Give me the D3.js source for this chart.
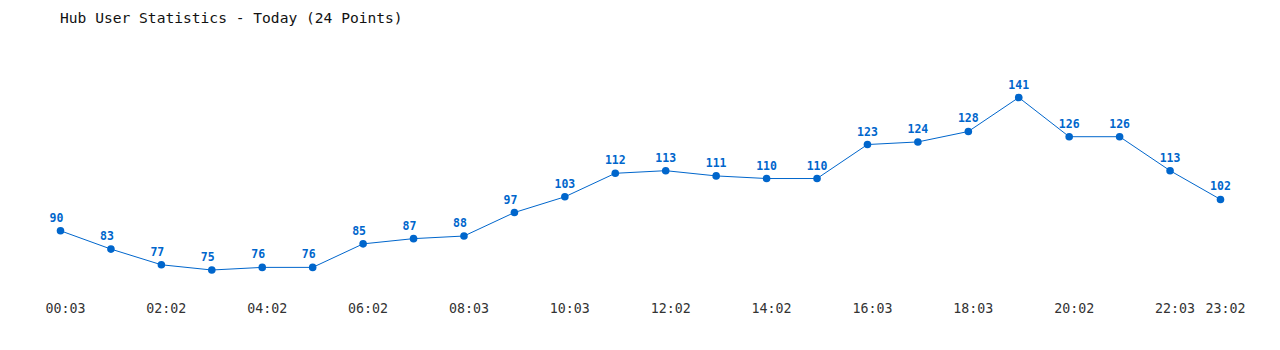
<!DOCTYPE html>
<meta charset="utf-8">
<style>
    body { margin: 0; background: #fff; }
    .line { fill: none; stroke: #0066cc; stroke-width: 1px; }
</style>
<body>
<script src="https://d3js.org/d3.v7.min.js"></script>
<script>
    var times = ["00:03", "01:02", "02:02", "03:02", "04:02", "05:02", "06:02", "07:03", "08:03", "09:03",
        "10:03", "11:02", "12:02", "13:02", "14:02", "15:03", "16:03", "17:02", "18:03", "19:02",
        "20:02", "21:02", "22:03", "23:02"];
    var users = [90, 83, 77, 75, 76, 76, 85, 87, 88, 97, 103, 112, 113, 111, 110, 110, 123, 124, 128, 141, 126, 126, 113, 102];
    var tickLabels = ["00:03", "02:02", "04:02", "06:02", "08:03", "10:03", "12:02", "14:02", "16:03", "18:03", "20:02", "22:03", "23:02"];

    var width = 1280, height = 350;
    var svg = d3.select("body").append("svg")
        .attr("width", width)
        .attr("height", height);

    var x = d3.scalePoint().domain(times).range([60.5, 1220.5]);
    var y = d3.scaleLinear().domain([75, 141]).range([270, 97.5]);

    svg.append("text")
        .attr("x", 60)
        .attr("y", 23)
        .style("font", "14.6px 'DejaVu Sans Mono', monospace")
        .attr("fill", "#111")
        .text("Hub User Statistics - Today (24 Points)");

    var line = d3.line()
        .x(function(d, i) { return x(times[i]); })
        .y(function(d) { return y(d); });

    svg.append("path")
        .datum(users)
        .attr("class", "line")
        .attr("d", line);

    svg.selectAll(".dot")
        .data(users)
        .enter().append("circle")
        .attr("class", "dot")
        .attr("cx", function(d, i) { return x(times[i]); })
        .attr("cy", function(d) { return y(d); })
        .attr("r", 3.8)
        .attr("fill", "#0066cc");

    svg.selectAll(".val")
        .data(users)
        .enter().append("text")
        .attr("class", "val")
        .attr("x", function(d, i) { return x(times[i]) - (d < 100 ? 4 : 0); })
        .attr("y", function(d) { return y(d) - 9; })
        .attr("text-anchor", "middle")
        .style("font", "bold 11.5px 'DejaVu Sans Mono', monospace")
        .attr("fill", "#0066cc")
        .text(function(d) { return d; });

    svg.selectAll(".tick-label")
        .data(tickLabels)
        .enter().append("text")
        .attr("class", "tick-label")
        .attr("x", function(d) { return x(d) + 5; })
        .attr("y", 313)
        .attr("text-anchor", "middle")
        .style("font", "13.3px 'DejaVu Sans Mono', monospace")
        .attr("fill", "#333")
        .text(function(d) { return d; });
</script>
</body>
